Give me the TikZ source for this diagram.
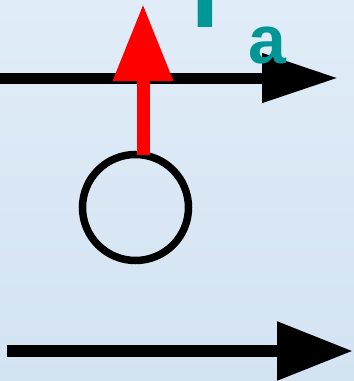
\documentclass[tikz,border=0pt]{standalone}
\usepackage{fontspec}
\setmainfont{Liberation Sans}
\usetikzlibrary{arrows.meta}
\definecolor{bgtop}{RGB}{224,237,248}
\definecolor{bgbot}{RGB}{212,227,242}
\definecolor{tealtext}{RGB}{0,150,150}
\tikzset{
  blackarrow/.style={line width=#1, draw=black},
  redarrow/.style={line width=13pt, draw=red, -{Triangle[length=77pt,width=57pt]}},
  label/.style={text=tealtext, font=\bfseries, inner sep=0pt, anchor=base}
}
\begin{document}
\begin{tikzpicture}[x=1pt,y=-1pt]
\shade[top color=bgtop, bottom color=bgbot] (0,0) rectangle (354,381);
\useasboundingbox (0,0) rectangle (354,381);
\coordinate (t1) at (0,78);
\coordinate (t2) at (338,78);
\coordinate (b1) at (7,351);
\coordinate (b2) at (353,351);
\draw[blackarrow=11pt, -{Triangle[length=76pt,width=47pt]}] (t1) -- (t2);
\draw[blackarrow=12pt, -{Triangle[length=76pt,width=56pt]}] (b1) -- (b2);
\node[circle, draw=black, line width=7.5pt, minimum size=106pt, inner sep=0pt] (c) at (135.5,207.5) {};
\coordinate (r1) at (143,155);
\coordinate (r2) at (143,4);
\draw[redarrow] (r1) -- (r2);
\node[label, font=\fontsize{100}{100}\selectfont\bfseries] (I) at (205.5,27) {I};
\node[label, font=\fontsize{68}{68}\selectfont\bfseries] (a) at (267.5,63) {a};
\end{tikzpicture}
\end{document}
